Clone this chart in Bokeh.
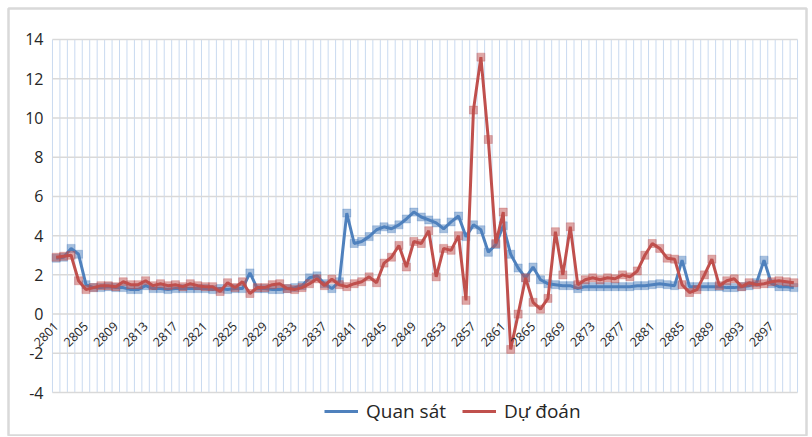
import math
from bokeh.plotting import figure
from bokeh.models import ColumnDataSource, Legend, LegendItem, Range1d, LinearAxis, FixedTicker
from bokeh.core.properties import value
from bokeh.embed import file_html
from bokeh.resources import INLINE

# ---- data -------------------------------------------------------------
categories = [str(2801 + k) for k in range(100)]

quan_sat = [2.85, 2.9, 3.35, 3.05, 1.5, 1.35, 1.35, 1.4, 1.35, 1.35,
            1.25, 1.25, 1.45, 1.3, 1.3, 1.25, 1.3, 1.3, 1.3, 1.3,
            1.3, 1.25, 1.3, 1.25, 1.3, 1.3, 2.1, 1.3, 1.3, 1.25,
            1.25, 1.3, 1.35, 1.45, 1.85, 1.95, 1.55, 1.3, 1.65, 5.15,
            3.6, 3.7, 3.95, 4.3, 4.45, 4.35, 4.55, 4.85, 5.2, 4.95,
            4.8, 4.65, 4.35, 4.7, 5.0, 3.95, 4.55, 4.3, 3.15, 3.55,
            4.5, 3.05, 2.35, 1.85, 2.4, 1.75, 1.55, 1.5, 1.45, 1.45,
            1.3, 1.4, 1.4, 1.4, 1.4, 1.4, 1.4, 1.4, 1.45, 1.45,
            1.5, 1.55, 1.5, 1.45, 2.75, 1.4, 1.4, 1.4, 1.4, 1.4,
            1.35, 1.35, 1.4, 1.45, 1.6, 2.75, 1.55, 1.4, 1.4, 1.35]

du_doan = [2.9, 2.95, 3.0, 1.7, 1.25, 1.35, 1.45, 1.45, 1.4, 1.65,
           1.5, 1.5, 1.7, 1.45, 1.55, 1.45, 1.5, 1.4, 1.55, 1.45,
           1.4, 1.4, 1.15, 1.6, 1.35, 1.65, 1.05, 1.35, 1.35, 1.5,
           1.55, 1.3, 1.25, 1.35, 1.55, 1.8, 1.45, 1.78, 1.5, 1.4,
           1.55, 1.65, 1.9, 1.6, 2.6, 2.9, 3.5, 2.4, 3.7, 3.6,
           4.25, 1.9, 3.35, 3.25, 4.0, 0.7, 10.4, 13.1, 8.9, 3.6,
           5.2, -1.8, 0.0, 1.85, 0.6, 0.25, 0.8, 4.2, 2.0, 4.45,
           1.5, 1.75, 1.85, 1.75, 1.85, 1.8, 2.0, 1.9, 2.2, 3.0,
           3.6, 3.35, 2.85, 2.8, 1.5, 1.1, 1.25, 2.0, 2.8, 1.45,
           1.7, 1.8, 1.4, 1.6, 1.5, 1.55, 1.65, 1.7, 1.65, 1.6]

series_names = ["Quan sát", "Dự đoán"]
y_ticks = [-4, -2, 0, 2, 4, 6, 8, 10, 12, 14]
y_tick_labels = ["-4", "-2", "0", "2", "4", "6", "8", "10", "12", "14"]
tick_step = 4

# ---- styling ------------------------------------------------------------
BLUE = "#4f81bd"
RED = "#c0504d"
FONT = "Open Sans"
TXT = "#262626"

n = len(categories)
x = list(range(n))
x_ticks = x[::tick_step]

# view window (chart area incl. room for axis labels and legend)
X_LO, X_HI = -6.40, 100.70
Y_LO, Y_HI = -6.24, 15.58

p = figure(width=810, height=436, output_backend="svg", toolbar_location=None,
           x_range=Range1d(X_LO, X_HI), y_range=Range1d(Y_LO, Y_HI),
           x_axis_location=None, y_axis_location=None,
           min_border_left=8, min_border_top=8, min_border_right=4, min_border_bottom=0)
p.xgrid.visible = False
p.ygrid.visible = False
p.background_fill_color = "white"
p.border_fill_color = "white"
p.outline_line_color = "#d9d9d9"
p.outline_line_width = 2.5

# gridlines bounded to the plot area
vx = [k - 0.5 for k in range(n + 1)]
p.segment(x0=vx, y0=[y_ticks[0]] * len(vx), x1=vx, y1=[y_ticks[-1]] * len(vx),
          line_color="#c9daf0", line_width=1)
p.segment(x0=[-0.5] * len(y_ticks), y0=y_ticks, x1=[n - 0.5] * len(y_ticks), y1=y_ticks,
          line_color="#d9d9d9", line_width=1.5)

# y tick labels
ysrc = ColumnDataSource(dict(x=[-0.5] * len(y_ticks), y=y_ticks, t=y_tick_labels))
p.text(x="x", y="y", text="t", source=ysrc, x_offset=-9,
       text_align="right", text_baseline="middle",
       text_font=value(FONT), text_font_size="16px", text_color=TXT)

# category axis drawn on the zero line (takes no panel space)
xaxis = LinearAxis(fixed_location=0, ticker=FixedTicker(ticks=x_ticks),
                   major_label_overrides={k: categories[k] for k in x_ticks},
                   major_label_orientation=math.pi / 4,
                   axis_line_color=None, major_tick_line_color=None,
                   minor_tick_line_color=None, major_label_standoff=4,
                   major_label_text_font=FONT, major_label_text_font_size="12.5px",
                   major_label_text_color=TXT)
p.add_layout(xaxis, "below")

# series
l1 = p.line(x, quan_sat, color=BLUE, line_width=3)
p.scatter(x, quan_sat, marker="square", size=8, fill_color=BLUE, fill_alpha=0.5,
          line_color=BLUE, line_alpha=0.3)
l2 = p.line(x, du_doan, color=RED, line_width=3)
p.scatter(x, du_doan, marker="square", size=8, fill_color=RED, fill_alpha=0.5,
          line_color=RED, line_alpha=0.3)

# legend-only round markers (as in the reference legend)
d1 = p.scatter([], [], marker="circle", size=7, color=BLUE)
d2 = p.scatter([], [], marker="circle", size=7, color=RED)

legend = Legend(items=[LegendItem(label=series_names[0], renderers=[l1, d1]),
                       LegendItem(label=series_names[1], renderers=[l2, d2])],
                orientation="horizontal", location=(316, 12),
                border_line_color=None, background_fill_alpha=0,
                label_text_font=FONT, label_text_font_size="19px", label_text_color=TXT,
                glyph_width=34, glyph_height=20, label_standoff=8, spacing=16,
                margin=0, padding=4)
p.add_layout(legend)

open("out.html", "w").write(file_html(p, INLINE))
